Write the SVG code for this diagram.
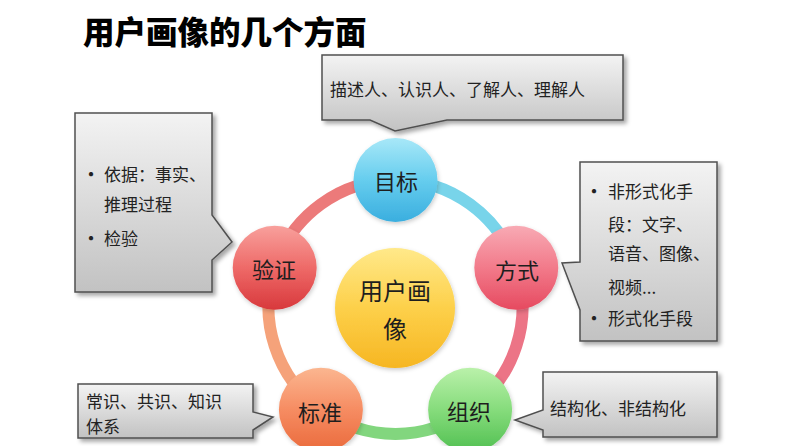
<svg xmlns="http://www.w3.org/2000/svg" width="789" height="446" viewBox="0 0 789 446">
<style>
text{font-family:"Noto Sans CJK SC","Noto Sans",sans-serif;fill:#1e1e1e;dominant-baseline:central}
.title{font-size:31.5px;font-weight:900;fill:#000}
.node{font-size:22px;text-anchor:middle}
.core{font-size:24px;text-anchor:middle}
.note{font-size:17px;fill:#222}
.bul{font-size:20px;fill:#222}
.box{fill:url(#boxg);stroke:#505050;stroke-width:1.5;filter:url(#sh)}
.ring{fill:none;stroke-width:12;stroke-linecap:butt}
.ball{filter:url(#csh)}
</style>
<defs>
<linearGradient id="boxg" x1="0" y1="0" x2="0" y2="1">
<stop offset="0" stop-color="#f3f3f3"/><stop offset="1" stop-color="#c2c2c2"/>
</linearGradient>
<linearGradient id="gBlue" x1="0" y1="0" x2="0" y2="1">
<stop offset="0" stop-color="#a8e8f8"/><stop offset="0.5" stop-color="#66cdee"/><stop offset="1" stop-color="#3aaedf"/>
</linearGradient>
<linearGradient id="gPink" x1="0" y1="0" x2="0" y2="1">
<stop offset="0" stop-color="#f8aab4"/><stop offset="0.5" stop-color="#f27a8a"/><stop offset="1" stop-color="#e64a60"/>
</linearGradient>
<linearGradient id="gGreen" x1="0" y1="0" x2="0" y2="1">
<stop offset="0" stop-color="#baf1aa"/><stop offset="0.5" stop-color="#86dc7c"/><stop offset="1" stop-color="#52c052"/>
</linearGradient>
<linearGradient id="gOrange" x1="0" y1="0" x2="0" y2="1">
<stop offset="0" stop-color="#fbb690"/><stop offset="0.5" stop-color="#f68c62"/><stop offset="1" stop-color="#ea6a3c"/>
</linearGradient>
<linearGradient id="gRed" x1="0" y1="0" x2="0" y2="1">
<stop offset="0" stop-color="#f8a09c"/><stop offset="0.5" stop-color="#ee6a68"/><stop offset="1" stop-color="#d8383c"/>
</linearGradient>
<linearGradient id="gYellow" x1="0" y1="0" x2="0" y2="1">
<stop offset="0" stop-color="#ffe98a"/><stop offset="0.5" stop-color="#fdd04a"/><stop offset="1" stop-color="#f6b622"/>
</linearGradient>
<filter id="sh" x="-10%" y="-10%" width="125%" height="130%">
<feDropShadow dx="3" dy="3" stdDeviation="2" flood-color="#000" flood-opacity="0.35"/>
</filter>
<filter id="csh" x="-20%" y="-20%" width="140%" height="140%">
<feDropShadow dx="1" dy="2" stdDeviation="2" flood-color="#000" flood-opacity="0.2"/>
</filter>
</defs>
<rect width="789" height="446" fill="#ffffff"/>
<text class="title" x="83" y="30">用户画像的几个方面</text>

<g id="connectors">
<path class="ring" stroke="#78d4ea" d="M395.5,180 A127,127 0 0 1 516.3,267.8"/>
<path class="ring" stroke="#ec7486" d="M516.3,267.8 A127,127 0 0 1 470.1,409.7"/>
<path class="ring" stroke="#82d67e" d="M470.1,409.7 A127,127 0 0 1 320.9,409.7"/>
<path class="ring" stroke="#f5a27a" d="M320.9,409.7 A127,127 0 0 1 274.7,267.8"/>
<path class="ring" stroke="#ec7a7a" d="M274.7,267.8 A127,127 0 0 1 395.5,180"/>
</g>

<g id="callout-goal">
<path class="box" d="M322,55 H623 V120 H447 L395,131 L370,120 H322 Z"/>
<text class="note" x="330" y="88">描述人、认识人、了解人、理解人</text>
</g>
<g id="callout-verify">
<path class="box" d="M75,113 H212 V215 L232,242 L212,260 V292 H75 Z"/>
<text class="bul" x="81" y="173">•</text>
<text class="note" x="104" y="173" font-size="16">依据：事实、</text>
<text class="note" x="104" y="203" font-size="16">推理过程</text>
<text class="bul" x="81" y="237">•</text>
<text class="note" x="104" y="237" font-size="16">检验</text>
</g>
<g id="callout-method">
<path class="box" d="M580,162 H717 V341 H580 V310 L562,263 L580,262 Z"/>
<text class="bul" x="584" y="190">•</text>
<text class="note" x="608" y="190">非形式化手</text>
<text class="note" x="608" y="223">段：文字、</text>
<text class="note" x="608" y="252">语音、图像、</text>
<text class="note" x="608" y="286">视频...</text>
<text class="bul" x="584" y="317">•</text>
<text class="note" x="608" y="317">形式化手段</text>
</g>
<g id="callout-standard">
<path class="box" d="M78,384 H253 V412 L273,417 L253,430 V438 H78 Z"/>
<text class="note" x="86" y="400" font-size="17">常识、共识、知识</text>
<text class="note" x="86" y="425" font-size="17">体系</text>
</g>
<g id="callout-org">
<path class="box" d="M543,372 H717 V437 H543 V430 L515,420 L543,410 Z"/>
<text class="note" x="550" y="407" font-size="18">结构化、非结构化</text>
</g>

<g id="node-goal">
<circle class="ball" cx="395.5" cy="180" r="42" fill="url(#gBlue)"/>
<text class="node" x="396" y="180">目标</text>
</g>
<g id="node-method">
<circle class="ball" cx="516.3" cy="267.8" r="42" fill="url(#gPink)"/>
<text class="node" x="517" y="269">方式</text>
</g>
<g id="node-org">
<circle class="ball" cx="470.1" cy="409.7" r="42" fill="url(#gGreen)"/>
<text class="node" x="469" y="410">组织</text>
</g>
<g id="node-standard">
<circle class="ball" cx="320.9" cy="409.7" r="42" fill="url(#gOrange)"/>
<text class="node" x="320" y="411">标准</text>
</g>
<g id="node-verify">
<circle class="ball" cx="274.7" cy="267.8" r="42" fill="url(#gRed)"/>
<text class="node" x="274" y="268">验证</text>
</g>
<g id="node-core">
<circle class="ball" cx="395" cy="308" r="60" fill="url(#gYellow)"/>
<text class="core" x="395" y="289">用户画</text>
<text class="core" x="395" y="327">像</text>
</g>
</svg>
